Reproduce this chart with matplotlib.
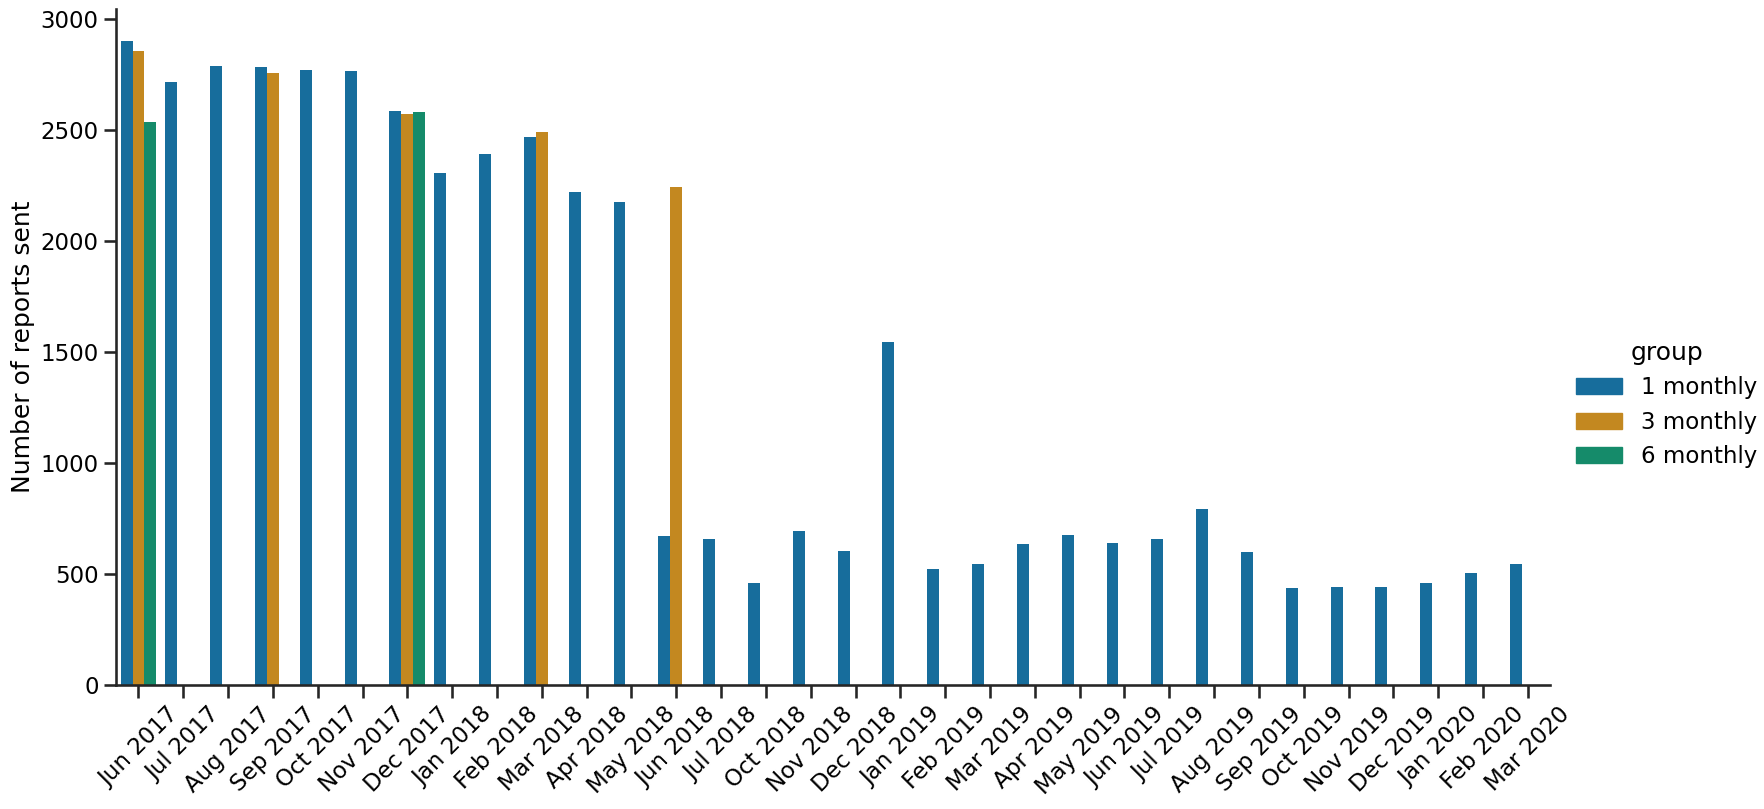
import colorsys
import numpy as np
import matplotlib
matplotlib.use("Agg")
import matplotlib.pyplot as plt
from matplotlib.colors import to_rgb
from matplotlib.patches import Patch

months = [
    "Jun 2017", "Jul 2017", "Aug 2017", "Sep 2017", "Oct 2017", "Nov 2017",
    "Dec 2017", "Jan 2018", "Feb 2018", "Mar 2018", "Apr 2018", "May 2018",
    "Jun 2018", "Jul 2018", "Oct 2018", "Nov 2018", "Dec 2018", "Jan 2019",
    "Feb 2019", "Mar 2019", "Apr 2019", "May 2019", "Jun 2019", "Jul 2019",
    "Aug 2019", "Sep 2019", "Oct 2019", "Nov 2019", "Dec 2019", "Jan 2020",
    "Feb 2020", "Mar 2020",
]
nan = np.nan
one_monthly = [
    2902, 2717, 2789, 2785, 2771, 2767, 2586, 2310, 2392, 2468, 2220, 2175,
    674, 660, 461, 697, 606, 1546, 525, 547, 638, 676, 640, 658,
    793, 599, 437, 441, 441, 459, 505, 545,
]
three_monthly = [
    2857, nan, nan, 2757, nan, nan, 2572, nan, nan, 2491, nan, nan,
    2246, nan, nan, nan, nan, nan, nan, nan, nan, nan, nan, nan,
    nan, nan, nan, nan, nan, nan, nan, nan,
]
six_monthly = [
    2536, nan, nan, nan, nan, nan, 2581, nan, nan, nan, nan, nan,
    nan, nan, nan, nan, nan, nan, nan, nan, nan, nan, nan, nan,
    nan, nan, nan, nan, nan, nan, nan, nan,
]
groups = ["1 monthly", "3 monthly", "6 monthly"]
series = [one_monthly, three_monthly, six_monthly]


def desaturate(color, prop=0.75):
    h, l, s = colorsys.rgb_to_hls(*to_rgb(color))
    return colorsys.hls_to_rgb(h, l, s * prop)


colors = [desaturate(c) for c in ["#0173B2", "#DE8F05", "#029E73"]]

plt.rcParams["font.family"] = "DejaVu Sans"
fig = plt.figure(figsize=(17.64, 8.09), dpi=100)
ax = fig.add_axes([0.0658, 0.153, 0.813, 0.836])

width = 0.8 / 3
x = np.arange(len(months))
for i, (vals, col) in enumerate(zip(series, colors)):
    vals = np.array(vals, dtype=float)
    ok = ~np.isnan(vals)
    ax.bar(x[ok] + (i - 1) * width, vals[ok], width=width, color=col,
           linewidth=0)

ax.set_xlim(-0.5, len(months) - 0.5)
ax.set_xticks(x)
ax.set_xticklabels(months, rotation=45, fontsize=16.5)
ax.tick_params(axis="y", labelsize=16.5)
ax.tick_params(axis="both", length=9, width=1.875, color="#262626")
ax.set_ylabel("Number of reports sent", fontsize=18)
for s in ["top", "right"]:
    ax.spines[s].set_visible(False)
for s in ["left", "bottom"]:
    ax.spines[s].set_linewidth(1.875)
    ax.spines[s].set_color("#262626")

handles = [Patch(color=c, label=g) for c, g in zip(colors, groups)]
fig.legend(handles=handles, title="group", loc="center left",
           bbox_to_anchor=(0.882, 0.5), frameon=False, fontsize=16.5,
           title_fontsize=18)

fig.savefig("out.png", dpi=100)
